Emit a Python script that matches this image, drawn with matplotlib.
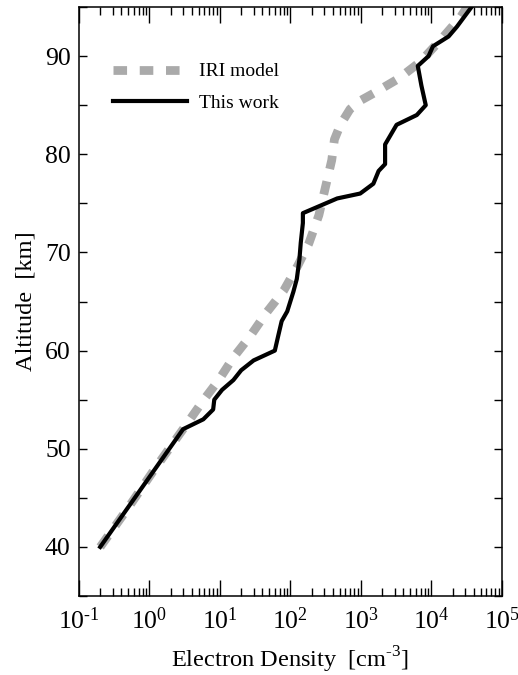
import numpy as np
import matplotlib
matplotlib.use("Agg")
from matplotlib import pyplot as plt
from matplotlib.ticker import LogLocator, MultipleLocator, FuncFormatter

plt.rcParams['font.family'] = ['Liberation Serif', 'DejaVu Serif']
plt.rcParams['mathtext.fontset'] = 'custom'
plt.rcParams['mathtext.rm'] = 'Liberation Serif'
plt.rcParams['axes.unicode_minus'] = False
plt.rcParams['font.size'] = 18.5

# IRI model profile (electron density cm^-3 vs altitude km)
iri_alt = [40, 44, 48, 52, 55, 57, 59.3, 61.5, 63.9, 66.1, 68.7, 70.9, 73.8,
           76.5, 79.4, 81.5, 83, 84.6, 85.5, 86.2, 87.7, 89.4, 91.6, 94, 95]
iri_ne = [0.2, 0.5, 1.2, 3, 5.9, 9.6, 15.5, 27, 46, 80, 128, 182, 253,
          310, 385, 420, 510, 700, 1000, 1500, 3400, 6900, 13300, 26000, 32000]

# This work profile
work_alt = [40, 52, 53, 54, 55, 56, 57, 58, 59, 60, 61.5, 63, 64, 66, 67.3,
            69.3, 71, 73, 74, 75.5, 76, 77, 78.3, 79, 81, 83, 84, 85, 87, 89,
            90, 91, 92, 93, 95]
work_ne = [0.2, 3, 5.8, 8, 8.3, 10.7, 15.5, 20, 30, 60, 67, 75, 90, 110, 123,
           134, 140, 150, 150, 460, 975, 1500, 1780, 2200, 2200, 3200, 6200,
           8300, 7200, 6400, 9100, 10500, 17500, 23000, 37000]


def decade_label(v, pos):
    e = int(round(np.log10(v)))
    if e < 0:
        return r'$\mathdefault{10^{\text{-}%d}}$' % (-e)
    return r'$\mathdefault{10^{%d}}$' % e


fig = plt.figure(figsize=(5.18, 6.75), dpi=100)
ax = fig.add_axes([0.1525, 0.117, 0.8165, 0.8726])

ax.plot(iri_ne, iri_alt, color='#aaaaaa', lw=6.3, dashes=(1.55, 1.45),
        solid_capstyle='butt', dash_capstyle='butt', label='IRI model')
ax.plot(work_ne, work_alt, color='black', lw=3.0, label='This work')

ax.set_xscale('log')
ax.set_xlim(0.1, 1e5)
ax.set_ylim(35, 95)
ax.xaxis.set_major_locator(LogLocator(base=10, numticks=10))
ax.xaxis.set_minor_locator(LogLocator(base=10, subs=np.arange(2, 10), numticks=20))
ax.xaxis.set_major_formatter(FuncFormatter(decade_label))
ax.yaxis.set_major_locator(MultipleLocator(10))
ax.yaxis.set_minor_locator(MultipleLocator(5))

ax.tick_params(which='both', direction='in', top=True, right=True, width=1)
ax.tick_params(axis='x', which='major', length=11.5, pad=8)
ax.tick_params(axis='x', which='minor', length=5.8)
ax.tick_params(axis='y', which='both', length=5.8, pad=6)
for s in ax.spines.values():
    s.set_linewidth(1.1)

ax.set_xlabel('Electron Density  [cm$^{\\text{-}3}$]', fontsize=17.6, labelpad=8)
ax.set_ylabel('Altitude  [km]', fontsize=17.6, labelpad=6)

ax.legend(loc='upper left', bbox_to_anchor=(0.04, 0.935), frameon=False,
          fontsize=14, handlelength=3.8, handletextpad=0.6, labelspacing=0.7)

fig.savefig('out.png', dpi=100)
